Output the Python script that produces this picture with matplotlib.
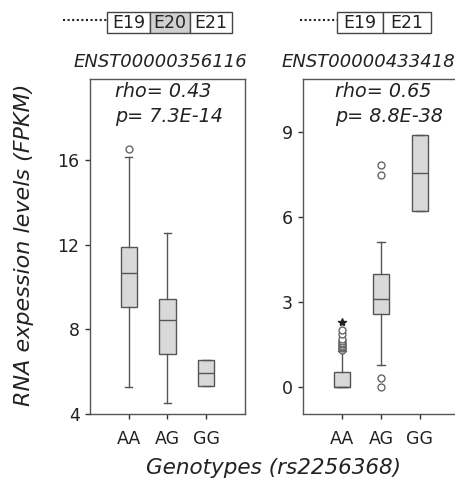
import matplotlib
matplotlib.use("Agg")
import matplotlib.pyplot as plt
from matplotlib.patches import Rectangle
from matplotlib.lines import Line2D

# genotype groups
genotypes = ["AA", "AG", "GG"]

# ENST00000356116 box summaries
t1_whislo = [5.26, 4.53, 5.33]
t1_q1 = [9.08, 6.82, 5.33]
t1_med = [10.66, 8.45, 5.93]
t1_q3 = [11.90, 9.44, 6.56]
t1_whishi = [16.18, 12.58, 6.56]
t1_fliers = [[16.53], [], []]

# ENST00000433418 box summaries
t2_whislo = [0.0, 0.76, 6.20]
t2_q1 = [0.0, 2.57, 6.20]
t2_med = [0.0, 3.10, 7.55]
t2_q3 = [0.53, 3.99, 8.91]
t2_whishi = [1.27, 5.11, 8.91]
t2_fliers = [[1.30, 1.35, 1.40, 1.45, 1.50, 1.55, 1.60, 1.68, 1.87, 2.00],
             [-0.03, 0.32, 7.50, 7.83], []]
t2_extreme = [[2.27], [], []]

titles = ["ENST00000356116", "ENST00000433418"]
stat_text = [("rho= 0.43", "p= 7.3E-14"), ("rho= 0.65", "p= 8.8E-38")]

W, H = 456, 482
EDGE = "#555555"
FILL = "#d9d9d9"
TOP, BOT = 79, 414


def fx(x):
    return x / W


def fy(y):
    return 1 - y / H


def stats(whislo, q1, med, q3, whishi, fliers):
    return [dict(whislo=whislo[i], q1=q1[i], med=med[i], q3=q3[i],
                 whishi=whishi[i], fliers=fliers[i]) for i in range(len(q1))]


fig = plt.figure(figsize=(W / 100, H / 100), dpi=100)
ax1 = fig.add_axes([fx(90), fy(BOT), fx(245 - 90), (BOT - TOP) / H])
ax2 = fig.add_axes([fx(303), fy(BOT), fx(459 - 303), (BOT - TOP) / H])

box_kw = dict(widths=0.42, capwidths=0.18, patch_artist=True,
              boxprops=dict(facecolor=FILL, edgecolor=EDGE, linewidth=1),
              medianprops=dict(color=EDGE, linewidth=1),
              whiskerprops=dict(color=EDGE, linewidth=1),
              capprops=dict(color=EDGE, linewidth=1),
              flierprops=dict(marker="o", markersize=5, markerfacecolor="white",
                              markeredgecolor="#666666", markeredgewidth=1))

ax1.bxp(stats(t1_whislo, t1_q1, t1_med, t1_q3, t1_whishi, t1_fliers),
        positions=[1, 2, 3], **box_kw)
ax2.bxp(stats(t2_whislo, t2_q1, t2_med, t2_q3, t2_whishi, t2_fliers),
        positions=[1, 2, 3], **box_kw)
for i, ys in enumerate(t2_extreme):
    if ys:
        ax2.plot([i + 1] * len(ys), ys, marker="*", color="#222222",
                 markersize=6, linestyle="none")

ax1.set_xlim(0, 4)
ax1.set_ylim(4, 19.85)
ax1.set_yticks([4, 8, 12, 16])
ax2.set_xlim(0, 4)
ax2.set_ylim(-0.97, 10.88)
ax2.set_yticks([0, 3, 6, 9])

for ax in (ax1, ax2):
    ax.set_xticks([1, 2, 3])
    ax.set_xticklabels(genotypes)
    ax.tick_params(direction="out", length=3.5, width=1, color="#333333",
                   labelsize=12.5, labelcolor="#222222", pad=4)
    ax.tick_params(axis="x", pad=8)
    for s in ax.spines.values():
        s.set_color(EDGE)
        s.set_linewidth(1)

# titles and correlation stats
fig.text(fx(160), fy(62), titles[0], style="italic", fontsize=13,
         ha="center", va="center", color="#222222")
fig.text(fx(368), fy(62), titles[1], style="italic", fontsize=13,
         ha="center", va="center", color="#222222")
for (rho, p), x0 in zip(stat_text, [115, 335]):
    fig.text(fx(x0), fy(97), rho, style="italic", fontsize=13.8,
             ha="left", va="baseline", color="#222222")
    fig.text(fx(x0), fy(122), p, style="italic", fontsize=13.8,
             ha="left", va="baseline", color="#222222")

# exon diagrams
def exon_row(x_dots, edges, labels, shaded):
    fig.add_artist(Line2D([fx(x_dots), fx(edges[0])], [fy(20), fy(20)],
                          color="#222222", linestyle=(0, (1, 1.2)), linewidth=1.5))
    for i, lab in enumerate(labels):
        fig.add_artist(Rectangle((fx(edges[i]), fy(33)), fx(edges[i + 1] - edges[i]),
                                 21 / H, transform=fig.transFigure,
                                 facecolor="#d0d0d0" if lab in shaded else "white",
                                 edgecolor="#444444", linewidth=1))
        fig.text(fx((edges[i] + edges[i + 1]) / 2), fy(22.5), lab, fontsize=12.5,
                 ha="center", va="center", color="#222222")


exon_row(63, [107, 150, 190, 232], ["E19", "E20", "E21"], ["E20"])
exon_row(300, [337, 383, 431], ["E19", "E21"], [])

fig.text(fx(24), fy(245), "RNA expession levels (FPKM)", rotation=90,
         style="italic", fontsize=16, ha="center", va="center", color="#222222")
fig.text(fx(274), fy(468), "Genotypes (rs2256368)", style="italic",
         fontsize=15.5, ha="center", va="center", color="#222222")

fig.savefig("out.png", dpi=100)
